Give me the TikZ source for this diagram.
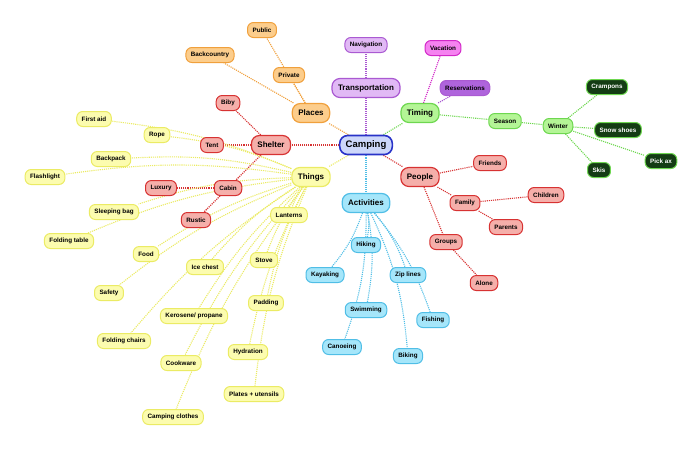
\documentclass[tikz,border=0pt]{standalone}
\usepackage{fontspec}
\setmainfont{Liberation Sans}
\usepackage{tikz}
\usetikzlibrary{backgrounds}
\definecolor{campblue}{RGB}{40,50,200}
\definecolor{campfill}{RGB}{205,215,250}
\definecolor{shelterred}{RGB}{215,50,50}
\definecolor{shelterfill}{RGB}{245,175,170}
\definecolor{thingsyel}{RGB}{235,235,100}
\definecolor{thingsfill}{RGB}{252,252,175}
\definecolor{placesorg}{RGB}{240,160,60}
\definecolor{placesfill}{RGB}{252,205,140}
\definecolor{timegreen}{RGB}{110,215,80}
\definecolor{timefill}{RGB}{180,245,150}
\definecolor{actcyan}{RGB}{80,190,230}
\definecolor{actfill}{RGB}{165,230,250}
\definecolor{transpurple}{RGB}{170,90,210}
\definecolor{transfill}{RGB}{225,185,245}
\definecolor{vacmag}{RGB}{210,40,200}
\definecolor{vacfill}{RGB}{245,130,240}
\definecolor{resfill}{RGB}{175,100,220}
\definecolor{wintdark}{RGB}{20,60,20}
\tikzset{
  font={\fontsize{6.3pt}{7}\selectfont\bfseries},
  leaf/.style={draw=#1, line width=1pt, rounded corners=6pt, inner xsep=5pt, inner ysep=3pt, minimum height=15pt},
  mainbox/.style={draw=#1, line width=1.2pt, rounded corners=8pt, inner xsep=6pt, minimum height=19pt, font={\fontsize{8pt}{9}\selectfont\bfseries}},
  link/.style={draw=#1, densely dotted, line width=1.1pt}}
\begin{document}
\begin{tikzpicture}[x=1pt,y=-1pt]
\useasboundingbox (0,0) rectangle (700,448);
% centre and main branches
\node [mainbox=campblue, fill=campfill, line width=1.6pt, font={\fontsize{9.5pt}{10}\selectfont\bfseries}] (camping) at (366,145) {Camping};
\node [mainbox=transpurple, fill=transfill] (transport) at (366,88) {Transportation};
\node [mainbox=placesorg, fill=placesfill] (places) at (311,113) {Places};
\node [mainbox=shelterred, fill=shelterfill] (shelter) at (271,145) {Shelter};
\node [mainbox=thingsyel, fill=thingsfill] (things) at (311,177) {Things};
\node [mainbox=timegreen, fill=timefill] (timing) at (420,113) {Timing};
\node [mainbox=shelterred, fill=shelterfill] (people) at (420,177) {People};
\node [mainbox=actcyan, fill=actfill] (activities) at (366,203) {Activities};
% transportation and timing
\node [leaf=transpurple, fill=transfill] (navigation) at (366,45) {Navigation};
\node [leaf=vacmag, fill=vacfill] (vacation) at (443,48) {Vacation};
\node [leaf=transpurple, fill=resfill] (reservations) at (465,88) {Reservations};
\node [leaf=timegreen, fill=timefill] (season) at (505,121) {Season};
\node [leaf=timegreen, fill=timefill] (winter) at (558,126) {Winter};
\foreach \n/\x/\y/\t in {crampons/607/87/Crampons, snowshoes/618/130/Snow shoes, pickax/661/161/Pick ax, skis/599/170/Skis}
  \node [leaf=timegreen, fill=wintdark, text=white] (\n) at (\x,\y) {\t};
% places
\foreach \n/\x/\y/\t in {private/289/75/Private, public/262/30/Public, backcountry/210/55/Backcountry}
  \node [leaf=placesorg, fill=placesfill] (\n) at (\x,\y) {\t};
% shelter
\foreach \n/\x/\y/\t in {biby/228/103/Biby, tent/212/145/Tent, cabin/228/188/Cabin, luxury/161/188/Luxury, rustic/196/220/Rustic}
  \node [leaf=shelterred, fill=shelterfill] (\n) at (\x,\y) {\t};
% things
\foreach \n/\x/\y/\t in {firstaid/94/119/First aid, rope/157/135/Rope, backpack/111/159/Backpack,
  flashlight/45/177/Flashlight, sleepingbag/114/212/Sleeping bag, foldingtable/69/241/Folding table,
  food/146/254/Food, lanterns/289/215/Lanterns, icechest/205/267/Ice chest, stove/264/260/Stove,
  safety/109/293/Safety, kerosene/194/316/{Kerosene/ propane}, padding/266/303/Padding,
  foldingchairs/124/341/Folding chairs, cookware/181/363/Cookware, hydration/248/352/Hydration,
  plates/254/394/Plates + utensils, clothes/173/417/Camping clothes}
  \node [leaf=thingsyel, fill=thingsfill] (\n) at (\x,\y) {\t};
% people
\foreach \n/\x/\y/\t in {friends/490/163/Friends, family/465/203/Family, children/546/195/Children,
  parents/506/227/Parents, groups/446/242/Groups, alone/484/283/Alone}
  \node [leaf=shelterred, fill=shelterfill] (\n) at (\x,\y) {\t};
% activities
\foreach \n/\x/\y/\t in {hiking/366/245/Hiking, kayaking/325/275/Kayaking, ziplines/408/275/Zip lines,
  swimming/366/310/Swimming, fishing/433/320/Fishing, canoeing/342/347/Canoeing, biking/408/356/Biking}
  \node [leaf=actcyan, fill=actfill] (\n) at (\x,\y) {\t};
% connectors
\begin{scope}[on background layer]
\draw [link=transpurple] (camping) -- (transport);
\draw [link=transpurple] (transport) -- (navigation);
\draw [link=placesorg] (camping) -- (places);
\foreach \n in {private,public,backcountry}
  \draw [link=placesorg] (places) -- (\n);
\draw [link=shelterred] (camping) -- (shelter);
\foreach \n in {biby,tent,cabin}
  \draw [link=shelterred] (shelter) -- (\n);
\foreach \n in {luxury,rustic}
  \draw [link=shelterred] (cabin) -- (\n);
\draw [link=thingsyel] (camping) -- (things);
\foreach \n in {firstaid,rope,backpack,flashlight,sleepingbag,foldingtable,food,lanterns,icechest,
  stove,safety,kerosene,padding,foldingchairs,cookware,hydration,plates,clothes}
  \draw [link=thingsyel] (things) to[bend right=8] (\n);
\draw [link=timegreen] (camping) -- (timing);
\draw [link=vacmag] (timing) -- (vacation);
\draw [link=transpurple] (timing) -- (reservations);
\draw [link=timegreen] (timing) -- (season);
\draw [link=timegreen] (season) -- (winter);
\foreach \n in {crampons,snowshoes,pickax,skis}
  \draw [link=timegreen] (winter) -- (\n);
\draw [link=shelterred] (camping) -- (people);
\foreach \n in {friends,family,groups}
  \draw [link=shelterred] (people) -- (\n);
\foreach \n in {children,parents}
  \draw [link=shelterred] (family) -- (\n);
\draw [link=shelterred] (groups) -- (alone);
\draw [link=actcyan] (camping) -- (activities);
\foreach \n in {hiking,kayaking,ziplines,swimming,fishing,canoeing,biking}
  \draw [link=actcyan] (activities) to[bend left=10] (\n);
\end{scope}
\end{tikzpicture}
\end{document}
